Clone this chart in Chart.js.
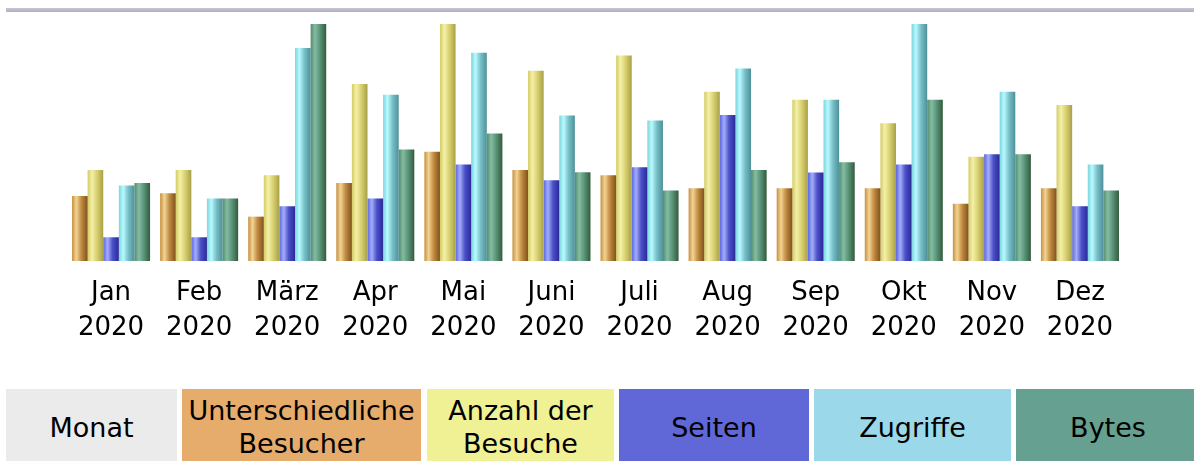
<!DOCTYPE html>
<html>
<head>
<meta charset="utf-8">
<script src="https://cdn.jsdelivr.net/npm/chart.js@4/dist/chart.umd.min.js"></script>
<style>
  html, body { margin: 0; padding: 0; background: #fff; width: 1194px; height: 461px; overflow: hidden; }
  #topline { position: absolute; left: 6px; right: 0; top: 8px; height: 4px;
    background: linear-gradient(#c8c4dc, #b0b0b4); }
  #wrap { position: absolute; left: 0; top: 0; width: 1194px; height: 380px; }
  .cell { position: absolute; top: 389px; height: 76px; display: flex; align-items: center; justify-content: center;
    text-align: center; font-family: 'DejaVu Sans', Verdana, sans-serif; font-size: 27px; line-height: 33px; color: #000; }
</style>
</head>
<body>
<div id="topline"></div>
<div id="wrap"><canvas id="c" width="1194" height="380"></canvas></div>
<div id="legend"></div>
<script>
// ---- data (relative heights) ----
const months = ["Jan", "Feb", "März", "Apr", "Mai", "Juni", "Juli", "Aug", "Sep", "Okt", "Nov", "Dez"];
const years = ["2020", "2020", "2020", "2020", "2020", "2020", "2020", "2020", "2020", "2020", "2020", "2020"];
const besucher = [65, 67.7, 44.3, 78, 109, 91, 85.7, 72.7, 72.7, 72.7, 57.3, 72.7];
const besuche  = [91, 91, 85.7, 176.7, 236.7, 190, 205.3, 169, 161, 137.7, 104, 155.7];
const seiten   = [23.7, 23.7, 54.7, 62.3, 96.3, 80.7, 93.7, 145.7, 88.3, 96.3, 106.7, 54.7];
const zugriffe = [75.3, 62.3, 212.7, 166, 208, 145.3, 140.3, 192.3, 161, 236.7, 169, 96.3];
const bytes    = [78, 62.3, 236.7, 111.3, 127.3, 88.7, 70.3, 91, 98.7, 161, 106.7, 70.3];
const headers = ["Monat", "Unterschiedliche<br>Besucher", "Anzahl der<br>Besuche", "Seiten", "Zugriffe", "Bytes"];

// ---- styles ----
const headerColors = ["#ebebeb", "#e6ac6c", "#f0f094", "#6068d8", "#9ad8ea", "#66a090"];
const headerPos = [[6, 177], [182, 421], [427, 614], [619, 809], [814, 1011], [1016, 1200]];
// cylinder gradient stops: left edge, highlight, middle, dark right edge
const grads = [
  ["#c89040", "#f2d494", "#c08a40", "#80521c"],
  ["#d4cc64", "#f4f0a8", "#d8d070", "#a8a048"],
  ["#5a68e0", "#a4acfa", "#4a50c8", "#2a2a98"],
  ["#7cd4de", "#b8faff", "#78c0c8", "#4e9098"],
  ["#548c6c", "#84bca4", "#5a9478", "#345a3c"]
];
const catPct = 0.886;

const legend = document.getElementById('legend');
headers.forEach((h, i) => {
  const d = document.createElement('div');
  d.className = 'cell';
  d.style.left = headerPos[i][0] + 'px';
  d.style.width = (headerPos[i][1] - headerPos[i][0]) + 'px';
  d.style.background = headerColors[i];
  d.innerHTML = h;
  legend.appendChild(d);
});

function barFill(di) {
  return function (context) {
    const chart = context.chart;
    const xs = chart.scales && chart.scales.x;
    if (!xs || !chart.chartArea || context.dataIndex === undefined) return grads[di][1];
    const center = xs.getPixelForValue(context.dataIndex);
    const stride = xs.width / months.length;
    const groupW = stride * catPct;
    const barW = groupW / 5;
    const left = center - groupW / 2 + di * barW;
    const g = chart.ctx.createLinearGradient(left, 0, left + barW, 0);
    const s = grads[di];
    g.addColorStop(0, s[0]);
    g.addColorStop(0.28, s[1]);
    g.addColorStop(0.6, s[2]);
    g.addColorStop(1, s[3]);
    return g;
  };
}

const series = [besucher, besuche, seiten, zugriffe, bytes];
const names = ["Unterschiedliche Besucher", "Anzahl der Besuche", "Seiten", "Zugriffe", "Bytes"];

new Chart(document.getElementById('c'), {
  type: 'bar',
  data: {
    labels: months.map((m, i) => [m, years[i]]),
    datasets: series.map((d, i) => ({
      label: names[i],
      data: d,
      backgroundColor: barFill(i),
      borderWidth: 0,
      categoryPercentage: catPct,
      barPercentage: 1
    }))
  },
  options: {
    responsive: false,
    animation: false,
    events: [],
    layout: { padding: { left: 67, right: 70, top: 24, bottom: 19 } },
    plugins: { legend: { display: false }, tooltip: { enabled: false } },
    scales: {
      x: {
        grid: { display: false, drawTicks: false },
        border: { display: false },
        ticks: {
          color: '#000',
          padding: 15,
          maxRotation: 0,
          autoSkip: false,
          font: { family: "'DejaVu Sans', Verdana, sans-serif", size: 26, lineHeight: '35px' }
        }
      },
      y: { display: false, min: 0, max: 236.7 }
    }
  }
});
</script>
</body>
</html>
